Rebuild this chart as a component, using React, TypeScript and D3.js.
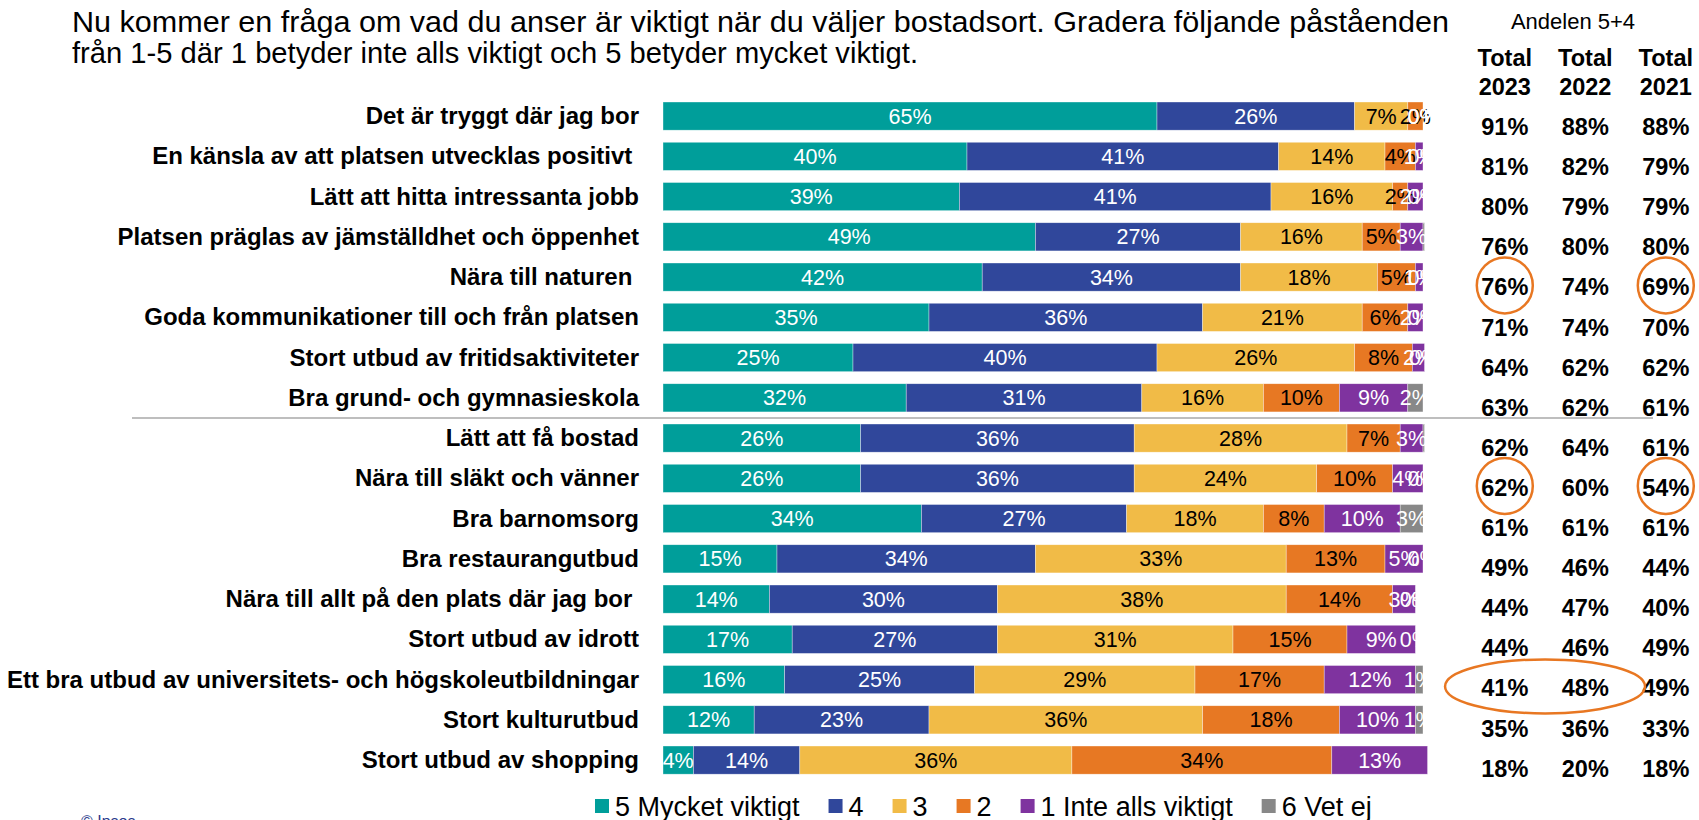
import React from "react";
import * as d3 from "d3";

const titleLines = [
  "Nu kommer en fråga om vad du anser är viktigt när du väljer bostadsort. Gradera följande påståenden",
  "från 1-5 där 1 betyder inte alls viktigt och 5 betyder mycket viktigt.",
];
const titleWidths = [1377, 846];

const categories = [
  "Det är tryggt där jag bor",
  "En känsla av att platsen utvecklas positivt ",
  "Lätt att hitta intressanta jobb",
  "Platsen präglas av jämställdhet och öppenhet",
  "Nära till naturen ",
  "Goda kommunikationer till och från platsen",
  "Stort utbud av fritidsaktiviteter",
  "Bra grund- och gymnasieskola",
  "Lätt att få bostad",
  "Nära till släkt och vänner",
  "Bra barnomsorg",
  "Bra restaurangutbud",
  "Nära till allt på den plats där jag bor ",
  "Stort utbud av idrott",
  "Ett bra utbud av universitets- och högskoleutbildningar",
  "Stort kulturutbud",
  "Stort utbud av shopping",
];

const seriesNames = ["5 Mycket viktigt", "4", "3", "2", "1 Inte alls viktigt", "6 Vet ej"];
const seriesColors = ["#009E9A", "#30479B", "#F1BB47", "#E77823", "#7F339F", "#888888"];
const labelColors = ["#FFFFFF", "#FFFFFF", "#000000", "#000000", "#FFFFFF", "#FFFFFF"];

const v5 = [65, 40, 39, 49, 42, 35, 25, 32, 26, 26, 34, 15, 14, 17, 16, 12, 4];
const v4 = [26, 41, 41, 27, 34, 36, 40, 31, 36, 36, 27, 34, 30, 27, 25, 23, 14];
const v3 = [7, 14, 16, 16, 18, 21, 26, 16, 28, 24, 18, 33, 38, 31, 29, 36, 35.8];
const v2 = [2, 4, 2, 5, 5, 6, 7.6, 10, 7, 10, 8, 13, 14, 15, 17, 18, 34.2];
const v1 = [0, 1, 2, 3, 1, 2, 1.6, 9, 3, 4, 10, 5, 3, 9, 12, 10, 12.6];
const v6: (number | null)[] = [0, 0, 0, 0.2, 0, 0, 0, 2, 0.2, 0, 3, 0, 0, 0, 1, 1, null];

const tableTitle = "Andelen 5+4";
const years = ["2023", "2022", "2021"];
const total2023 = [91, 81, 80, 76, 76, 71, 64, 63, 62, 62, 61, 49, 44, 44, 41, 35, 18];
const total2022 = [88, 82, 79, 80, 74, 74, 62, 62, 64, 60, 61, 46, 47, 46, 48, 36, 20];
const total2021 = [88, 79, 79, 80, 69, 70, 62, 61, 61, 54, 61, 44, 40, 49, 49, 33, 18];

// highlighted cells: [row index, year]
const circledCells: [number, string][] = [
  [4, "2023"],
  [4, "2021"],
  [9, "2023"],
  [9, "2021"],
];
const ellipseRow = 14;
const ellipseYears = ["2023", "2022"];

const FONT = "'Liberation Sans', Arial, sans-serif";
const W = 1699;
const H = 820;

let ctx: CanvasRenderingContext2D | null = null;
function measure(text: string, size: number, weight = "normal") {
  if (!ctx) ctx = document.createElement("canvas").getContext("2d");
  if (!ctx) return text.length * size * 0.5;
  ctx.font = `${weight} ${size}px 'Liberation Sans', Arial, sans-serif`;
  return ctx.measureText(text).width;
}

export default function App() {
  const allSeries = [v5, v4, v3, v2, v1, v6];
  const x = d3.scaleLinear().domain([0, 100]).range([663, 1423]);
  const y = d3
    .scaleBand<string>()
    .domain(categories)
    .range([102 - 0.15 * 40.25, 102 - 0.15 * 40.25 + 17 * 40.25])
    .paddingInner(0.3)
    .paddingOuter(0.15);
  const bw = y.bandwidth();

  const rowY = d3
    .scalePoint<string>()
    .domain(categories)
    .range([135, 135 + 16 * 40.1]);
  const colX = d3.scalePoint<string>().domain(years).range([1504.8, 1665.8]);
  const totals: Record<string, number[]> = { "2023": total2023, "2022": total2022, "2021": total2021 };

  const segments: { cat: string; s: number; x0: number; x1: number; v: number; show: boolean }[] = [];
  categories.forEach((cat, i) => {
    let acc = 0;
    allSeries.forEach((arr, s) => {
      const v = arr[i];
      if (v === null || v === undefined) return;
      segments.push({ cat, s, x0: acc, x1: acc + v, v, show: !(v > 0 && v < 0.5) });
      acc += v;
    });
  });

  const sepY = ((y(categories[7]) as number) + bw + (y(categories[8]) as number)) / 2;

  // legend layout
  const legendSize = 27;
  let lx = 595;
  const legendItems = seriesNames.map((name, i) => {
    const item = { name, color: seriesColors[i], x: lx };
    lx += 20 + measure(name, legendSize) + 29;
    return item;
  });

  return (
    <svg
      width={W}
      height={H}
      style={{ position: "absolute", left: 0, top: 0, fontFamily: FONT }}
    >
      <rect x={0} y={0} width={W} height={H} fill="#fff" />
      {titleLines.map((t, i) => (
        <text
          key={i}
          x={72}
          y={32 + i * 30.5}
          fontSize={29.5}
          fill="#000"
          textLength={titleWidths[i]}
          lengthAdjust="spacingAndGlyphs"
        >
          {t}
        </text>
      ))}

      {/* category labels */}
      {categories.map((c) => (
        <text
          key={c}
          x={639}
          y={(y(c) as number) + bw / 2 + 8}
          textAnchor="end"
          fontSize={24}
          fontWeight="bold"
          fill="#000"
          style={{ whiteSpace: "pre" }}
        >
          {c}
        </text>
      ))}

      {/* bars */}
      {segments.map((d, k) => (
        <rect
          key={k}
          x={x(d.x0)}
          y={y(d.cat)}
          width={Math.max(0, x(d.x1) - x(d.x0))}
          height={bw}
          fill={seriesColors[d.s]}
          stroke="#ffffff"
          strokeOpacity={0.6}
          strokeWidth={0.6}
        />
      ))}
      {segments
        .filter((d) => d.show)
        .map((d, k) => (
          <text
            key={k}
            x={(x(d.x0) + x(d.x1)) / 2}
            y={(y(d.cat) as number) + bw / 2 + 7.5}
            textAnchor="middle"
            fontSize={21.5}
            fill={labelColors[d.s]}
          >
            {Math.round(d.v) + "%"}
          </text>
        ))}

      {/* separator */}
      <line x1={132} x2={1653} y1={sepY} y2={sepY} stroke="#A9A9A9" strokeWidth={1.6} />

      {/* table */}
      <text x={1573} y={29} textAnchor="middle" fontSize={22} fill="#000">
        {tableTitle}
      </text>
      {years.map((yr) => (
        <g key={yr}>
          <text x={colX(yr)} y={66} textAnchor="middle" fontSize={23.5} fontWeight="bold">
            Total
          </text>
          <text x={colX(yr)} y={95} textAnchor="middle" fontSize={23.5} fontWeight="bold">
            {yr}
          </text>
          {categories.map((c, i) => (
            <text
              key={c}
              x={colX(yr)}
              y={rowY(c)}
              textAnchor="middle"
              fontSize={23.5}
              fontWeight="bold"
              fill="#000"
            >
              {totals[yr][i] + "%"}
            </text>
          ))}
        </g>
      ))}

      {/* highlights */}
      {circledCells.map(([r, yr], k) => (
        <circle
          key={k}
          cx={colX(yr)}
          cy={(rowY(categories[r]) as number) - 10}
          r={28}
          fill="none"
          stroke="#E87722"
          strokeWidth={2.5}
        />
      ))}
      <ellipse
        cx={((colX(ellipseYears[0]) as number) + (colX(ellipseYears[1]) as number)) / 2}
        cy={(rowY(categories[ellipseRow]) as number) - 10}
        rx={100}
        ry={27}
        fill="none"
        stroke="#E87722"
        strokeWidth={2.5}
      />

      {/* legend */}
      {legendItems.map((it) => (
        <g key={it.name}>
          <rect x={it.x} y={799} width={14} height={14} fill={it.color} />
          <text x={it.x + 20} y={815.5} fontSize={legendSize} fill="#000">
            {it.name}
          </text>
        </g>
      ))}

      <text x={81} y={827} fontSize={16} fill="#2B3A8C">
        © Ipsos
      </text>
    </svg>
  );
}
